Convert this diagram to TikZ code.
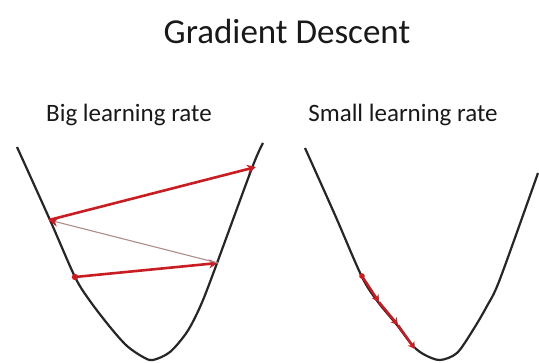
\documentclass[tikz,border=0pt]{standalone}
\usepackage{fontspec}
\setmainfont{Carlito}
\usetikzlibrary{arrows.meta}
\definecolor{arrowred}{RGB}{200,30,35}
\definecolor{thinline}{RGB}{175,140,140}
\tikzset{
  curve/.style={line width=2.2pt, black!85, line join=round},
  bigarrow/.style={line width=2.6pt, arrowred, -{Stealth[length=9pt,width=9pt]}},
  thinarrow/.style={line width=1.1pt, thinline, -{Stealth[length=9pt,width=9pt,color=arrowred]}},
  smallarrow/.style={line width=2.4pt, arrowred, -{Stealth[length=7pt,width=8pt]}},
  title/.style={font=\fontsize{35}{40}\selectfont, text=black!90},
  subtitle/.style={font=\fontsize{25}{30}\selectfont, text=black!90}
}
\begin{document}
\begin{tikzpicture}[x=1pt,y=-1pt]
\useasboundingbox (0,0) rectangle (539,363);
\fill[white] (0,0) rectangle (539,363);
\node[title] (t) at (287,31) {Gradient Descent};
\node[subtitle] (b) at (129,115) {Big learning rate};
\node[subtitle] (s) at (403,115) {Small learning rate};
% left parabola
\draw[curve] plot[smooth, tension=0.5] coordinates {(17,147) (50,220) (75,277) (90,301) (110,327) (127,346) (143,357) (153,360) (170,352) (187,332) (200,307) (213,274) (252,168) (263,143)};
% right parabola
\draw[curve] plot[smooth, tension=0.5] coordinates {(305,148) (335,215) (362,277) (378,302) (397,325) (413,346) (425,355) (440,360) (457,353) (473,330) (487,306) (500,279) (538,173)};
% big learning rate steps
\coordinate (p0) at (75,277);
\coordinate (p1) at (218,263);
\coordinate (p2) at (49,220);
\coordinate (p3) at (256,167);
\fill[arrowred] (p0) circle (3.2pt);
\draw[bigarrow] (p0) -- (p1);
\draw[thinarrow] (p1) -- (p2);
\draw[bigarrow] (p2) -- (p3);
% small learning rate steps
\coordinate (q0) at (362,276);
\coordinate (q1) at (379,302);
\coordinate (q2) at (398,325);
\coordinate (q3) at (415,349);
\fill[arrowred] (q0) circle (2.8pt);
\draw[smallarrow] (q0) -- (q1);
\draw[smallarrow] (q1) -- (q2);
\draw[smallarrow] (q2) -- (q3);
\end{tikzpicture}
\end{document}
